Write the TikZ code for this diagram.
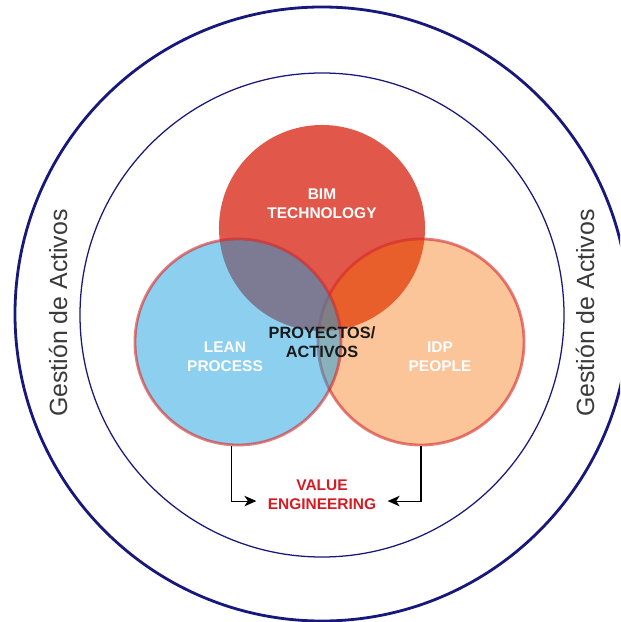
\documentclass[tikz,border=0pt]{standalone}
\usepackage{fontspec}
\setmainfont{Liberation Sans}
\usetikzlibrary{arrows.meta}

\definecolor{navy}{RGB}{24,24,124}
\definecolor{bimred}{RGB}{225,87,74}
\definecolor{idporange}{RGB}{245,107,0}
\definecolor{leanblue}{RGB}{25,159,221}
\definecolor{rimred}{RGB}{214,40,40}
\definecolor{valuered}{RGB}{212,28,36}
\definecolor{sidegray}{RGB}{58,58,58}

\begin{document}
\begin{tikzpicture}[x=0.025cm, y=-0.025cm, >={Stealth[length=8.5pt, width=7.5pt, inset=2.5pt]},
    venn/.style={circle, minimum size=5.15cm, inner sep=0pt},
    rim/.style={draw=rimred, draw opacity=0.6, line width=2pt},
    tag/.style={align=center, font=\bfseries\fontsize{11}{13.6}\selectfont},
    side/.style={text=sidegray, font=\fontsize{17.7}{20}\selectfont, rotate=90}]
\useasboundingbox (0,0) rectangle (620,622);
\clip (0,0) rectangle (620,622);

% Rings
\draw[draw=navy, line width=2pt] (322,314) circle (307);
\draw[draw=navy, line width=0.9pt] (322,315) circle (242);

% Venn circles
\node[venn, fill=bimred] (bim) at (322,228) {};
\node[venn, rim, fill=idporange, fill opacity=0.4] (idp) at (421,342) {};
\node[venn, rim, fill=leanblue, fill opacity=0.5] (lean) at (238,342) {};

% Labels
\node[tag, text=white] (bimtxt) at (322,204) {BIM\\TECHNOLOGY};
\node[tag, text=white] (leantxt) at (225,357) {LEAN\\PROCESS};
\node[tag, text=white] (idptxt) at (440,357) {IDP\\PEOPLE};
\node[tag, text=black!90, font=\bfseries\fontsize{11.6}{13.6}\selectfont] (core) at (322,342) {PROYECTOS/\\ACTIVOS};
\node[tag, text=valuered, inner xsep=8pt] (value) at (322,495) {VALUE\\ENGINEERING};

% Side texts
\node[side] (leftside) at (58,313) {Gestión de Activos};
\node[side] (rightside) at (585,313) {Gestión de Activos};

% Arrows
\draw[->, line width=0.75pt] ([xshift=-4.3pt]lean.south) |- ([yshift=-4.3pt]value.west);
\draw[->, line width=0.75pt] (idp.south) |- ([yshift=-4.3pt]value.east);
\end{tikzpicture}
\end{document}
